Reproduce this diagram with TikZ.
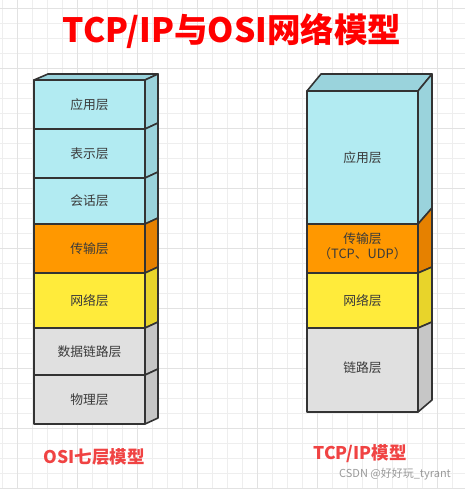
\documentclass[tikz,border=0pt]{standalone}
\usepackage{fontspec}
\setmainfont{Noto Sans CJK SC}
\definecolor{gridminor}{HTML}{EEEEEE}
\definecolor{gridmajor}{HTML}{E2E2E2}
\definecolor{edge}{HTML}{333333}
\definecolor{cyanF}{HTML}{B2EBF2}
\definecolor{cyanS}{HTML}{9AD3DC}
\definecolor{orangeF}{HTML}{FF9800}
\definecolor{orangeS}{HTML}{E68100}
\definecolor{yellowF}{HTML}{FFEB3B}
\definecolor{yellowS}{HTML}{E8D42A}
\definecolor{grayF}{HTML}{E0E0E0}
\definecolor{grayS}{HTML}{C6C6C6}
\definecolor{txt}{HTML}{3A3A3A}
\definecolor{titlered}{HTML}{FF0000}
\definecolor{subred}{HTML}{F04343}
\definecolor{wm}{HTML}{9A9A9A}
\begin{document}
\begin{tikzpicture}[x=1pt,y=-1pt,
  face/.style={draw=edge,line width=1.6pt,line join=round},
  lbl/.style={text=txt,font=\fontsize{12.8}{15.5}\selectfont,align=center,inner sep=0pt},
  sub/.style={text=subred,font=\bfseries\fontsize{17.5}{20}\selectfont,inner sep=0pt}]
\useasboundingbox (0,0) rectangle (465,489);
\fill[white] (0,0) rectangle (465,489);
% grid
\foreach \i in {0,...,31} {\draw[gridminor,line width=0.9pt] ({2.3+15*\i},0) -- ({2.3+15*\i},489);}
\foreach \i in {0,...,32} {\draw[gridminor,line width=0.9pt] (0,{8.3+15*\i}) -- (465,{8.3+15*\i});}
\foreach \i in {0,...,7} {\draw[gridmajor,line width=1pt] ({17.3+60*\i},0) -- ({17.3+60*\i},489);}
\foreach \i in {0,...,8} {\draw[gridmajor,line width=1pt] (0,{8.3+60*\i}) -- (465,{8.3+60*\i});}
% title
\node[text=titlered,font=\bfseries\fontsize{33.5}{38}\selectfont,inner sep=0pt] (title) at (232,31) {TCP/IP与OSI网络模型};
% ---------- OSI stack ----------
\fill[cyanS,face] (34,80) -- (48,74) -- (158,74) -- (145,80) -- cycle;
\fill[cyanS,face] (145,80) -- (158,74) -- (158,123) -- (145,129) -- cycle;
\fill[cyanS,face] (145,129) -- (158,123) -- (158,172) -- (145,178) -- cycle;
\fill[cyanS,face] (145,178) -- (158,172) -- (158,218) -- (145,224) -- cycle;
\fill[orangeS,face] (145,224) -- (158,218) -- (158,267) -- (145,273) -- cycle;
\fill[yellowS,face] (145,273) -- (158,267) -- (158,322) -- (145,328) -- cycle;
\fill[grayS,face] (145,328) -- (158,322) -- (158,369) -- (145,375) -- cycle;
\fill[grayS,face] (145,375) -- (158,369) -- (158,418) -- (145,424) -- cycle;
\fill[cyanF,face] (34,80) rectangle (145,129);
\fill[cyanF,face] (34,129) rectangle (145,178);
\fill[cyanF,face] (34,178) rectangle (145,224);
\fill[orangeF,face] (34,224) rectangle (145,273);
\fill[yellowF,face] (34,273) rectangle (145,328);
\fill[grayF,face] (34,328) rectangle (145,375);
\fill[grayF,face] (34,375) rectangle (145,424);
\node[lbl] (o7) at (89.5,104.5) {应用层};
\node[lbl] (o6) at (89.5,153.5) {表示层};
\node[lbl] (o5) at (89.5,201) {会话层};
\node[lbl] (o4) at (89.5,248.5) {传输层};
\node[lbl] (o3) at (89.5,300.5) {网络层};
\node[lbl] (o2) at (89.5,351.5) {数据链路层};
\node[lbl] (o1) at (89.5,399.5) {物理层};
\node[sub] (osi) at (94,457) {OSI七层模型};
% ---------- TCP/IP stack ----------
\fill[cyanS,face] (307,91) -- (321,74) -- (432,74) -- (418,91) -- cycle;
\fill[cyanS,face] (418,91) -- (432,74) -- (432,208) -- (418,224) -- cycle;
\fill[orangeS,face] (418,224) -- (432,208) -- (432,267) -- (418,273) -- cycle;
\fill[yellowS,face] (418,273) -- (432,267) -- (432,322) -- (418,328) -- cycle;
\fill[grayS,face] (418,328) -- (432,322) -- (432,400) -- (418,412) -- cycle;
\fill[cyanF,face] (307,91) rectangle (418,224);
\fill[orangeF,face] (307,224) rectangle (418,273);
\fill[yellowF,face] (307,273) rectangle (418,328);
\fill[grayF,face] (307,328) rectangle (418,412);
\node[lbl] (t4) at (362.5,157.5) {应用层};
\node[lbl] (t3) at (362.5,246) {传输层\\（TCP、UDP）};
\node[lbl] (t2) at (362.5,300.5) {网络层};
\node[lbl] (t1) at (362.5,368) {链路层};
\node[sub] (tcp) at (360,454) {TCP/IP模型};
\node[text=wm,font=\fontsize{11}{13}\selectfont,inner sep=0pt] (mark) at (395,474) {CSDN @好好玩\_tyrant};
\end{tikzpicture}
\end{document}
